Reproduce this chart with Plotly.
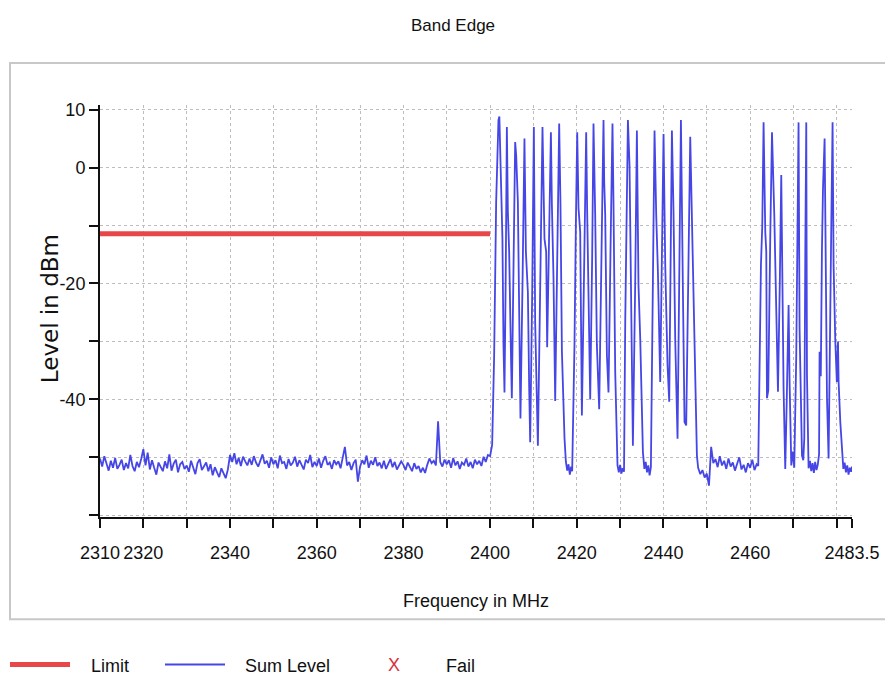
import numpy as np
import plotly.graph_objects as go

# ---------------- data ----------------
LIMIT_LEVEL = -11.4                     # dBm
LIMIT_F = [2310.0, 2400.0]

# noise floor 2310 .. 2400 MHz, sweep step 0.5 MHz
NOISE1_START, NOISE1_STEP = 2310.0, 0.5
NOISE1_LEVEL = [
    -50.2, -51.6, -49.8, -51.2, -52.3, -50.6, -51.8, -50.1, -52.0, -51.3,
    -50.4, -52.2, -51.0, -51.9, -49.6, -51.5, -52.4, -50.8, -51.7, -50.3,
    -48.6, -51.4, -49.2, -52.1, -50.5, -51.8, -53.0, -50.9, -51.6, -52.4,
    -50.7, -51.9, -49.5, -52.3, -51.1, -50.4, -52.6, -51.2, -50.8, -52.0,
    -51.4, -52.5, -50.6, -51.8, -52.9, -51.0, -50.3, -52.2, -51.5, -50.9,
    -52.4, -51.2, -53.1, -51.7, -52.6, -53.4, -51.9, -52.8, -53.6, -52.1,
    -49.6, -50.8, -49.3, -51.2, -50.1, -51.5, -49.9, -50.7, -51.4, -50.2,
    -51.3, -49.8, -50.9, -51.6, -50.4, -49.5, -51.1, -50.6, -51.8, -50.0,
    -51.2, -50.5, -51.9, -49.7, -51.0, -50.8, -52.0, -50.3, -51.4, -50.9,
    -49.9, -51.6, -50.5, -51.3, -52.1, -50.4, -51.0, -49.6, -51.7, -50.8,
    -51.5, -50.2, -51.8, -50.6, -49.8, -51.3, -50.9, -52.0, -50.5, -51.2,
    -50.7, -51.9, -50.3, -48.2, -51.4, -50.8, -52.2, -51.0, -50.4, -54.2,
    -51.6, -50.5, -51.2, -49.7, -51.8, -50.6, -51.3, -50.0, -51.5, -50.9,
    -51.9, -50.6, -52.0, -51.1, -50.3, -51.7, -50.8, -52.1, -51.4, -50.7,
    -51.3, -52.2, -50.9, -51.6, -52.4, -51.0, -52.0, -51.5, -52.6, -51.8,
    -52.7, -51.3, -50.2, -51.0, -50.6, -51.4, -43.8, -50.8, -51.6, -50.4,
    -51.2, -50.5, -51.8, -50.1, -51.4, -50.7, -52.0, -50.9, -51.3, -50.2,
    -51.6, -50.8, -51.9, -50.4, -51.2, -50.6, -51.5, -49.9, -50.8, -49.6,
    -49.8,
]

# hopping channels 2400 .. 2448 MHz
HOP1_F = [
    2400.48, 2400.94, 2401.40, 2401.93, 2402.14, 2402.49, 2402.85, 2403.09, 2403.32, 2403.59,
    2403.87, 2404.10, 2404.40, 2404.86, 2405.02, 2405.44, 2405.79, 2406.02, 2406.41, 2406.78,
    2407.01, 2407.52, 2407.93, 2408.26, 2408.72, 2409.02, 2409.25, 2409.71, 2410.10, 2410.40,
    2410.75, 2411.03, 2411.67, 2412.09, 2412.55, 2412.94, 2413.17, 2413.63, 2414.03, 2414.26,
    2414.63, 2415.02, 2415.55, 2415.94, 2416.24, 2416.57, 2417.17, 2417.49, 2417.80, 2418.10,
    2418.40, 2418.70, 2418.94, 2419.47, 2419.80, 2420.10, 2420.40, 2420.79, 2421.18, 2421.83,
    2422.17, 2422.40, 2422.75, 2423.10, 2423.56, 2423.86, 2424.25, 2424.64, 2425.17, 2425.75,
    2426.17, 2426.33, 2426.56, 2426.95, 2427.32, 2427.83, 2428.24, 2428.47, 2428.87, 2429.40,
    2429.70, 2430.00, 2430.30, 2430.60, 2430.90, 2431.18, 2431.57, 2431.80, 2432.17, 2432.49,
    2432.95, 2433.48, 2433.87, 2434.24, 2434.64, 2435.26, 2435.60, 2435.90, 2436.20, 2436.50,
    2436.80, 2437.10, 2437.34, 2437.71, 2437.94, 2438.33, 2438.72, 2439.25, 2439.67, 2440.02,
    2440.41, 2440.94, 2441.33, 2441.63, 2441.95, 2442.32, 2442.71, 2443.25, 2443.64, 2444.03,
    2444.49, 2444.86, 2445.25, 2445.78, 2446.18, 2446.57, 2447.10, 2447.72,
]
HOP1_LEVEL = [
    -47.8, -32.4, -6.0, 8.2, 8.8, -3.7, -12.3, -30.6, -38.8, -20.0,
    7.0, -7.6, -14.5, -34.1, -39.8, -15.0, 4.4, 2.1, -5.9, -29.0,
    -43.3, -18.0, 5.0, -14.5, -21.5, -38.0, -47.4, -22.0, 7.0, -26.7,
    -39.3, -48.0, -15.0, 7.0, -12.3, -14.5, -31.0, -10.0, 6.1, -6.4,
    -19.0, -40.3, -12.0, 7.6, -6.4, -31.7, -46.7, -50.8, -52.3, -51.2,
    -53.0, -51.6, -52.4, -30.6, -9.3, 6.1, -7.0, -11.1, -42.8, -12.0,
    6.1, -7.6, -25.0, -40.0, -15.0, 7.6, -8.2, -30.6, -41.7, -14.0,
    8.2, -2.5, -8.2, -32.4, -38.8, -12.0, 7.6, -5.8, -35.3, -51.4,
    -52.6, -51.3, -52.8, -51.9, -52.5, -26.7, -6.4, 8.2, 0.4, -23.7,
    -48.0, -20.0, 6.4, -20.3, -29.5, -49.1, -52.0, -50.8, -52.6, -51.4,
    -53.1, -51.7, -32.4, -9.3, 6.4, -8.2, -18.0, -37.0, -15.0, 5.8,
    -16.8, -34.1, -40.4, -14.0, 6.4, -7.6, -29.5, -46.8, -18.0, 8.2,
    -21.4, -43.9, -44.5, -14.0, 5.3, -8.8, -29.5, -49.7,
]

# noise floor 2448 .. 2461.5 MHz
NOISE2_START, NOISE2_STEP = 2448.0, 0.5
NOISE2_LEVEL = [
    -51.8, -52.9, -52.2, -53.5, -52.8, -54.9, -48.2, -51.0, -50.3, -51.7,
    -49.8, -51.4, -50.6, -52.0, -50.2, -51.6, -50.9, -52.3, -51.1, -50.0,
    -52.1, -51.3, -52.6, -51.0, -51.8, -50.4, -52.2, -51.2,
]

# hopping channels 2462 .. 2483.5 MHz
HOP2_F = [
    2461.87, 2462.10, 2462.49, 2462.80, 2463.10, 2463.49, 2463.72, 2463.88, 2464.18, 2464.64,
    2465.04, 2465.57, 2466.03, 2466.42, 2466.84, 2467.18, 2467.71, 2468.10, 2468.45, 2468.87,
    2469.10, 2469.49, 2469.80, 2470.18, 2470.64, 2470.94, 2471.17, 2471.40, 2471.57, 2471.96,
    2472.26, 2472.49, 2472.72, 2472.95, 2473.11, 2473.48, 2473.80, 2474.10, 2474.40, 2474.70,
    2475.00, 2475.30, 2475.60, 2475.90, 2476.02, 2476.30, 2476.57, 2476.81, 2477.18, 2477.41,
    2477.73, 2478.10, 2478.38, 2478.72, 2479.02, 2479.25, 2479.65, 2480.00, 2480.27, 2480.41,
    2480.80, 2481.19, 2481.50, 2481.80, 2482.10, 2482.40, 2482.70, 2483.00, 2483.30, 2483.50,
]
HOP2_LEVEL = [
    -51.5, -35.7, -16.8, -10.0, 7.8, -11.1, -14.5, -39.8, -38.5, -12.0,
    6.1, -8.2, -23.7, -38.7, -20.0, -1.3, -38.0, -52.0, -40.0, -23.7,
    -37.0, -51.4, -49.0, -51.8, -32.4, -15.0, 7.8, -27.7, -37.0, -49.7,
    -50.5, -46.7, -15.0, 7.8, -35.7, -51.9, -50.6, -52.4, -51.0, -52.7,
    -50.8, -52.2, -51.3, -49.5, -31.8, -36.0, -14.0, -3.5, 5.0, -12.8,
    -39.8, -50.2, -28.0, -10.0, 7.8, -16.8, -30.0, -37.0, -30.0, -37.0,
    -43.9, -49.7, -52.0, -50.9, -52.6, -51.4, -53.0, -51.8, -52.5, -51.6,
]

X_TICKS = [2310, 2320, 2330, 2340, 2350, 2360, 2370, 2380, 2390, 2400,
           2410, 2420, 2430, 2440, 2450, 2460, 2470, 2480, 2483.5]
X_TICK_TEXT = ["2310", "2320", "", "2340", "", "2360", "", "2380", "", "2400",
               "", "2420", "", "2440", "", "2460", "", "", "2483.5"]
Y_TICKS = [-60, -50, -40, -30, -20, -10, 0, 10]
Y_TICK_TEXT = ["", "", "-40", "", "-20", "", "0", "10"]

# ---------------- assemble sweep ----------------
noise1_f = NOISE1_START + NOISE1_STEP * np.arange(len(NOISE1_LEVEL))
noise2_f = NOISE2_START + NOISE2_STEP * np.arange(len(NOISE2_LEVEL))
freq = np.concatenate([noise1_f, HOP1_F, noise2_f, HOP2_F])
level = np.concatenate([NOISE1_LEVEL, HOP1_LEVEL, NOISE2_LEVEL, HOP2_LEVEL])

RED = "#E8474A"
BLUE = "#4646E6"
FONT = "Liberation Sans, Arial, sans-serif"
INK = "#111111"

fig = go.Figure()
fig.add_trace(go.Scatter(x=LIMIT_F, y=[LIMIT_LEVEL, LIMIT_LEVEL], mode="lines",
                         line=dict(color=RED, width=5), name="Limit", showlegend=False))
fig.add_trace(go.Scatter(x=freq, y=level, mode="lines",
                         line=dict(color=BLUE, width=1.8), name="Sum Level", showlegend=False))

# the page has an 8 px body margin: figure is 885x672 placed at (8, 8)
OFF = 8
W, H = 893 - OFF, 680 - OFF
PL, PR, PT, PB = 100, 852, 105, 516.7          # plot area in page pixels
PW, PH = PR - PL, PB - PT
def px(x):
    return (x - PL) / PW
def py(y):
    return (PB - y) / PH

shapes = [
    dict(type="rect", xref="paper", yref="paper", x0=px(10), x1=px(890), y0=py(619), y1=py(63),
         line=dict(color="#C8C8C8", width=2), fillcolor="rgba(0,0,0,0)", layer="below"),
    dict(type="line", xref="paper", yref="paper", x0=px(10), x1=px(70), y0=py(664), y1=py(664),
         line=dict(color=RED, width=5)),
    dict(type="line", xref="paper", yref="paper", x0=px(165), x1=px(225), y0=py(664), y1=py(664),
         line=dict(color=BLUE, width=2)),
]
LEG_FONT = dict(family=FONT, size=18, color=INK)
annotations = [
    dict(text="Limit", xref="paper", yref="paper", x=px(89), y=py(666), xanchor="left",
         yanchor="middle", showarrow=False, font=LEG_FONT),
    dict(text="Sum Level", xref="paper", yref="paper", x=px(243), y=py(666), xanchor="left",
         yanchor="middle", showarrow=False, font=LEG_FONT),
    dict(text="X", xref="paper", yref="paper", x=px(394), y=py(665), xanchor="center",
         yanchor="middle", showarrow=False, font=dict(family=FONT, size=18, color="#D9303A")),
    dict(text="Fail", xref="paper", yref="paper", x=px(444), y=py(666), xanchor="left",
         yanchor="middle", showarrow=False, font=LEG_FONT),
    # y-axis title
    dict(text="Level in dBm", xref="paper", yref="paper", x=px(50), y=py(309), xanchor="center",
         yanchor="middle", textangle=-90, showarrow=False,
         font=dict(family="DejaVu Sans, Liberation Sans, sans-serif", size=23, color=INK)),
]

fig.update_layout(
    width=W, height=H,
    margin=dict(l=PL - OFF, r=W - (PR - OFF), t=PT - OFF, b=H - (PB - OFF), autoexpand=False),
    paper_bgcolor="white", plot_bgcolor="white",
    title=dict(text="Band Edge", x=(453 - OFF) / W, xanchor="center",
               y=1 - (25 - OFF) / H, yanchor="middle",
               font=dict(family=FONT, size=17, color=INK)),
    shapes=shapes, annotations=annotations,
    showlegend=False,
)
fig.update_xaxes(
    range=[2310, 2483.5], tickvals=X_TICKS, ticktext=X_TICK_TEXT, tickangle=0,
    showline=True, linecolor=INK, linewidth=2,
    ticks="outside", ticklen=9, tickwidth=1.5, tickcolor=INK, ticklabelstandoff=9,
    showgrid=True, gridcolor="#BDBDBD", griddash="dot", gridwidth=1.3,
    zeroline=False, tickfont=dict(family=FONT, size=18, color=INK),
    title=dict(text="Frequency in MHz", font=dict(family=FONT, size=18, color=INK), standoff=33),
)
fig.update_yaxes(
    range=[-60.3, 10.8], tickvals=Y_TICKS, ticktext=Y_TICK_TEXT,
    showline=True, linecolor=INK, linewidth=2,
    ticks="outside", ticklen=9, tickwidth=1.5, tickcolor=INK,
    showgrid=True, gridcolor="#BDBDBD", griddash="dot", gridwidth=1.3,
    zeroline=False, tickfont=dict(family=FONT, size=18, color=INK),
)

fig.write_html("out.html")
